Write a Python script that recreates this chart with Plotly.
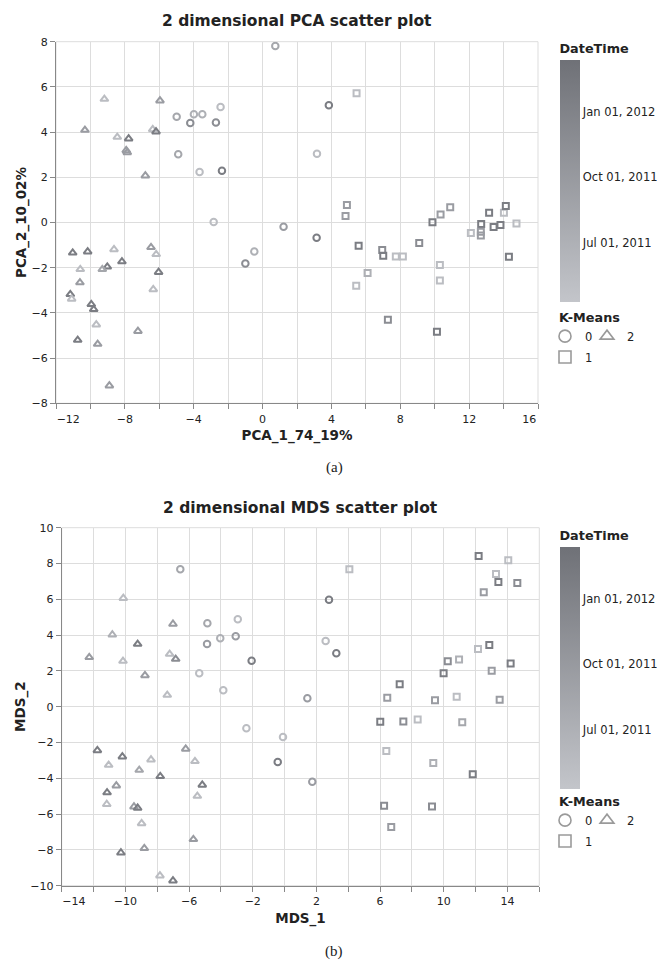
import pandas as pd
import plotly.graph_objects as go

# ---------------- data ----------------
# PCA panel
PCA_C0_X = [0.74, -4.99, -3.99, -3.50, -2.44, -4.20, -2.71, -4.90, -3.66, -2.36, 3.85, 3.16, -2.84, 1.22, -0.48, -1.00, 3.14]
PCA_C0_Y = [7.81, 4.68, 4.79, 4.79, 5.11, 4.40, 4.42, 3.02, 2.23, 2.29, 5.19, 3.04, 0.02, -0.19, -1.28, -1.81, -0.67]
PCA_C0_D = ["2011-08-10", "2011-08-10", "2011-07-05", "2011-07-05", "2011-05-10", "2011-11-20", "2011-11-20", "2011-08-10",
            "2011-05-10", "2012-01-25", "2012-01-25", "2011-05-10", "2011-05-10", "2011-09-20", "2011-07-05", "2011-11-20", "2012-01-25"]

PCA_C1_X = [5.46, 4.90, 4.82, 5.58, 6.95, 7.01, 7.74, 8.15, 6.10, 5.44, 7.28, 10.13, 9.10, 9.87, 10.34, 10.90, 10.30, 10.30,
            12.10, 12.70, 12.68, 12.68, 13.16, 13.42, 13.82, 14.02, 14.13, 14.75, 14.31]
PCA_C1_Y = [5.72, 0.77, 0.29, -1.03, -1.22, -1.47, -1.50, -1.50, -2.23, -2.80, -4.30, -4.83, -0.91, 0.01, 0.35, 0.67, -1.88, -2.57,
            -0.46, -0.07, -0.41, -0.58, 0.43, -0.20, -0.11, 0.43, 0.73, -0.04, -1.51]
PCA_C1_D = ["2011-05-10", "2011-09-20", "2011-09-20", "2012-01-25", "2011-11-20", "2012-01-25", "2011-05-10", "2011-05-10",
            "2011-07-05", "2011-05-10", "2011-11-20", "2012-01-25", "2011-11-20", "2012-01-25", "2011-09-20", "2011-09-20",
            "2011-05-10", "2011-05-10", "2011-05-10", "2012-01-25", "2011-09-20", "2011-09-20", "2012-01-25", "2012-01-25",
            "2012-01-25", "2011-05-10", "2012-01-25", "2011-05-10", "2012-01-25"]

PCA_C2_X = [-9.19, -10.32, -5.96, -8.44, -7.78, -7.92, -7.86, -6.38, -6.19, -6.81, -11.03, -10.16, -8.63, -8.17, -9.02, -9.31,
            -10.59, -10.61, -11.17, -11.09, -9.95, -9.81, -9.66, -10.74, -9.58, -7.24, -8.90, -6.48, -6.18, -6.04, -6.35]
PCA_C2_Y = [5.46, 4.09, 5.39, 3.78, 3.71, 3.19, 3.10, 4.12, 4.02, 2.07, -1.34, -1.29, -1.19, -1.73, -1.96, -2.07,
            -2.07, -2.66, -3.18, -3.38, -3.62, -3.84, -4.52, -5.20, -5.38, -4.81, -7.22, -1.10, -1.41, -2.20, -2.96]
PCA_C2_D = ["2011-05-10", "2011-09-20", "2011-09-20", "2011-05-10", "2012-01-25", "2011-09-20", "2011-09-20", "2011-05-10",
            "2012-01-25", "2011-09-20", "2012-01-25", "2012-01-25", "2011-05-10", "2012-01-25", "2012-01-25", "2011-08-10",
            "2011-05-10", "2011-09-20", "2012-01-25", "2011-05-10", "2012-01-25", "2012-01-25", "2011-05-10", "2012-01-25",
            "2011-09-20", "2011-09-20", "2011-09-20", "2011-09-20", "2011-05-10", "2012-01-25", "2011-05-10"]

# MDS panel
MDS_C0_X = [-6.55, -4.85, -4.87, -2.94, -4.04, -3.07, -2.07, -5.36, -3.85, 2.79, 2.58, 3.25, 1.43, -2.40, -0.10, -0.43, 1.74]
MDS_C0_Y = [7.68, 4.66, 3.50, 4.88, 3.82, 3.93, 2.57, 1.87, 0.92, 5.98, 3.67, 2.98, 0.47, -1.21, -1.69, -3.09, -4.19]
MDS_C0_D = ["2011-08-10", "2011-08-10", "2011-09-20", "2011-05-10", "2011-07-05", "2011-09-20", "2012-01-25", "2011-05-10",
            "2011-05-10", "2012-01-25", "2011-05-10", "2012-01-25", "2011-09-20", "2011-05-10", "2011-05-10", "2012-01-25", "2011-09-20"]

MDS_C1_X = [4.07, 12.19, 14.05, 13.28, 13.43, 14.62, 12.51, 12.15, 12.86, 10.25, 10.96, 14.20, 13.01, 9.99, 7.23, 6.45, 9.45,
            10.81, 13.51, 6.01, 7.46, 8.36, 11.16, 6.39, 9.34, 11.82, 6.25, 9.26, 6.70]
MDS_C1_Y = [7.68, 8.42, 8.18, 7.41, 6.97, 6.91, 6.39, 3.22, 3.45, 2.54, 2.63, 2.42, 2.01, 1.87, 1.25, 0.50, 0.36,
            0.56, 0.39, -0.84, -0.82, -0.71, -0.87, -2.47, -3.15, -3.78, -5.53, -5.57, -6.72]
MDS_C1_D = ["2011-05-10", "2012-01-25", "2011-05-10", "2011-05-10", "2012-01-25", "2011-11-20", "2011-09-20", "2011-05-10",
            "2012-01-25", "2011-11-20", "2011-07-05", "2012-01-25", "2011-09-20", "2012-01-25", "2012-01-25", "2011-09-20",
            "2011-09-20", "2011-05-10", "2011-09-20", "2012-01-25", "2011-11-20", "2011-05-10", "2011-08-10", "2011-05-10",
            "2011-07-05", "2012-01-25", "2011-11-20", "2011-11-20", "2011-09-20"]

MDS_C2_X = [-10.13, -10.82, -12.27, -10.15, -9.23, -8.77, -7.01, -7.22, -6.84, -7.37, -11.76, -11.05, -10.19, -8.39, -9.13,
            -7.81, -6.21, -5.63, -5.17, -5.48, -10.57, -11.15, -11.17, -9.46, -9.23, -8.98, -8.81, -10.28, -5.73, -7.83, -7.01]
MDS_C2_Y = [6.06, 4.02, 2.76, 2.55, 3.50, 1.75, 4.62, 2.94, 2.66, 0.65, -2.44, -3.26, -2.79, -2.96, -3.54,
            -3.89, -2.36, -3.05, -4.37, -4.99, -4.41, -4.80, -5.45, -5.59, -5.66, -6.52, -7.91, -8.16, -7.41, -9.44, -9.72]
MDS_C2_D = ["2011-05-10", "2011-07-05", "2011-09-20", "2011-05-10", "2012-01-25", "2011-09-20", "2011-09-20", "2011-05-10",
            "2011-11-20", "2011-05-10", "2012-01-25", "2011-05-10", "2012-01-25", "2011-05-10", "2011-08-10", "2012-01-25",
            "2011-09-20", "2011-05-10", "2012-01-25", "2011-05-10", "2011-09-20", "2012-01-25", "2011-05-10", "2011-09-20",
            "2012-01-25", "2011-05-10", "2011-09-20", "2012-01-25", "2011-09-20", "2011-05-10", "2012-01-25"]

CLUSTER_NAMES = ["0", "1", "2"]
DATE_DOMAIN = ["2011-04-09", "2012-03-14"]
DATE_TICKS = ["2011-07-01", "2011-10-01", "2012-01-01"]
DATE_TICK_TEXT = ["Jul 01, 2011", "Oct 01, 2011", "Jan 01, 2012"]

PCA_X_LABELS = [-12, -8, -4, 0, 4, 8, 12, 16]
PCA_Y_LABELS = [-8, -6, -4, -2, 0, 2, 4, 6, 8]
MDS_X_LABELS = [-14, -10, -6, -2, 2, 6, 10, 14]
MDS_Y_LABELS = [-10, -8, -6, -4, -2, 0, 2, 4, 6, 8, 10]

# ---------------- styling ----------------
W, H = 657, 960
FONT = "DejaVu Sans"
TXT = "#222222"
GRID = "#dddddd"
DOMAIN = "#888888"
COLORSCALE = [[0, "#c3c5ca"], [1, "#6f7177"]]
EPOCH = pd.Timestamp("2011-01-01")


def days(ds):
    return [(pd.Timestamp(d) - EPOCH).days for d in ds]


def fx(p):
    return p / W


def fy(p):
    return 1 - p / H


def minus(v):
    return ("\u2212" + str(abs(v))) if v < 0 else str(v)


def x_ticks(labels, lo, hi, flush_first, flush_last):
    vals = list(range(lo, hi + 1, 2))
    txt = []
    for v in vals:
        if v in labels:
            t = minus(v)
            pad = "\u00a0" * (2 * len(t) + 1)
            if v == lo and flush_first:
                t = pad + t
            if v == hi and flush_last:
                t = t + pad
            txt.append(t)
        else:
            txt.append("")
    return vals, txt


def y_ticks(labels):
    return labels, [minus(v) for v in labels]


fig = go.Figure()

panels = [
    dict(xa="x", ya="y", ca="coloraxis", lg_a="legend", lg_b="legend3",
         data=[(PCA_C0_X, PCA_C0_Y, PCA_C0_D), (PCA_C1_X, PCA_C1_Y, PCA_C1_D), (PCA_C2_X, PCA_C2_Y, PCA_C2_D)]),
    dict(xa="x2", ya="y2", ca="coloraxis2", lg_a="legend2", lg_b="legend4",
         data=[(MDS_C0_X, MDS_C0_Y, MDS_C0_D), (MDS_C1_X, MDS_C1_Y, MDS_C1_D), (MDS_C2_X, MDS_C2_Y, MDS_C2_D)]),
]
SYMBOLS = ["circle-open", "square-open", "triangle-up-open"]
SIZES = [6.5, 6, 7]

for p in panels:
    for k, (xs, ys, ds) in enumerate(p["data"]):
        fig.add_trace(go.Scatter(
            x=xs, y=ys, mode="markers", xaxis=p["xa"], yaxis=p["ya"], showlegend=False,
            name=CLUSTER_NAMES[k], hoverinfo="skip",
            marker=dict(symbol=SYMBOLS[k], size=SIZES[k], color=days(ds), coloraxis=p["ca"],
                        line=dict(width=2)),
        ))
    # legend entries: row one = clusters 0 and 2, row two = cluster 1
    for k, lg in [(0, p["lg_a"]), (2, p["lg_a"]), (1, p["lg_b"])]:
        fig.add_trace(go.Scatter(
            x=[None], y=[None], mode="markers", xaxis=p["xa"], yaxis=p["ya"], showlegend=True,
            legend=lg, name=CLUSTER_NAMES[k],
            marker=dict(symbol=SYMBOLS[k], size=12, color="#9a9a9a", line=dict(width=1.6)),
        ))

dmin, dmax = days(DATE_DOMAIN)
tick_days = days(DATE_TICKS)


def colorbar(top):
    return dict(
        title=dict(text="DateTime", side="top", font=dict(family=FONT, size=12.8, color=TXT, weight="bold")),
        x=fx(559.5), xanchor="left", y=fy(top), yanchor="top",
        lenmode="pixels", len=262, thickness=20, thicknessmode="pixels",
        xpad=0, ypad=0, outlinewidth=0, ticks="", tickvals=tick_days, ticktext=DATE_TICK_TEXT,
        tickfont=dict(family=FONT, size=11.5, color=TXT),
    )


axis_base = dict(showline=True, linecolor=DOMAIN, linewidth=1, ticks="outside", ticklen=5, tickcolor=DOMAIN,
                 tickwidth=1, showgrid=True, gridcolor=GRID, gridwidth=1, zeroline=False, tickmode="array",
                 tickfont=dict(family=FONT, size=11, color=TXT))


def title_font():
    return dict(family=FONT, size=13.5, color=TXT, weight="bold")


pxv, pxt = x_ticks(PCA_X_LABELS, -12, 16, True, True)
pyv, pyt = y_ticks(PCA_Y_LABELS)
mxv, mxt = x_ticks(MDS_X_LABELS, -14, 16, True, False)
myv, myt = y_ticks(MDS_Y_LABELS)

legend_common = dict(orientation="h", xanchor="left", yanchor="top", bgcolor="rgba(0,0,0,0)",
                     font=dict(family=FONT, size=11.5, color=TXT), entrywidth=9, entrywidthmode="pixels",
                     indentation=-12, itemsizing="trace", borderwidth=0)
legend_title = dict(text="K-Means", side="top", font=dict(family=FONT, size=12.8, color=TXT, weight="bold"))

LEG_X = fx(557)

fig.update_layout(
    width=W, height=H, margin=dict(l=0, r=0, t=0, b=0, autoexpand=False),
    paper_bgcolor="white", plot_bgcolor="white", font=dict(family=FONT, color=TXT),
    xaxis=dict(axis_base, domain=[fx(56), fx(538)], range=[-12, 16], anchor="y", tickvals=pxv, ticktext=pxt,
               title=dict(text="PCA_1_74_19%", font=title_font(), standoff=6)),
    yaxis=dict(axis_base, domain=[fy(403.3), fy(41.7)], range=[-8, 8], anchor="x", tickvals=pyv, ticktext=pyt,
               title=dict(text="PCA_2_10_02%", font=title_font(), standoff=1)),
    xaxis2=dict(axis_base, domain=[fx(61.7), fx(539.3)], range=[-14, 16], anchor="y2", tickvals=mxv, ticktext=mxt,
                title=dict(text="MDS_1", font=title_font(), standoff=6)),
    yaxis2=dict(axis_base, domain=[fy(885.7), fy(527.7)], range=[-10, 10], anchor="x2", tickvals=myv, ticktext=myt,
                title=dict(text="MDS_2", font=title_font(), standoff=1)),
    coloraxis=dict(colorscale=COLORSCALE, cmin=dmin, cmax=dmax, colorbar=colorbar(40)),
    coloraxis2=dict(colorscale=COLORSCALE, cmin=dmin, cmax=dmax, colorbar=colorbar(527)),
    legend=dict(legend_common, x=LEG_X, y=fy(305), title=legend_title),
    legend3=dict(legend_common, x=LEG_X, y=fy(342.5)),
    legend2=dict(legend_common, x=LEG_X, y=fy(789), title=legend_title),
    legend4=dict(legend_common, x=LEG_X, y=fy(826.5)),
    showlegend=True,
)

for xa, ya in [("x", "y"), ("x2", "y2")]:
    fig.add_shape(type="rect", xref=f"{xa} domain", yref=f"{ya} domain", x0=0, x1=1, y0=0, y1=1,
                  line=dict(color=GRID, width=1), layer="below")

annos = [
    ("2 dimensional PCA scatter plot", 297, 20.5, dict(family=FONT, size=15.5, color=TXT, weight="bold")),
    ("2 dimensional MDS scatter plot", 300.5, 507.5, dict(family=FONT, size=15.5, color=TXT, weight="bold")),
    ("(a)", 334, 467, dict(family="Liberation Serif", size=15, color=TXT)),
    ("(b)", 334, 951, dict(family="Liberation Serif", size=15, color=TXT)),
]
for text, x, y, font in annos:
    fig.add_annotation(text=text, x=fx(x), y=fy(y), xref="paper", yref="paper", xanchor="center",
                       yanchor="middle", showarrow=False, font=font)

fig.write_html("out.html")
